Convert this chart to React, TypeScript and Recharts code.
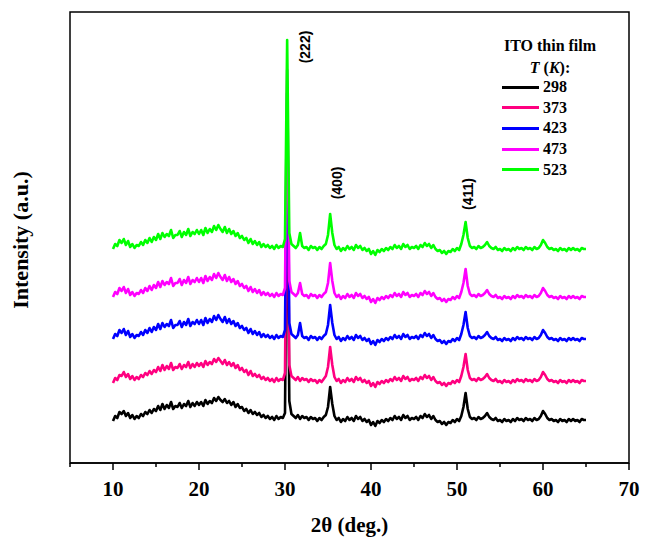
import React from 'react';
import { LineChart, Line, XAxis, YAxis, ReferenceArea, ReferenceDot } from 'recharts';

// 2θ sampling, 10° to 65° every 0.25°
const twoTheta = Array.from({ length: 221 }, (_, i) => 10 + i * 0.25);

// intensities (arbitrary units, stacked patterns)
const int298 = [
  44, 49, 47, 53, 51, 54, 49, 52, 47, 50, 46, 49, 47, 51, 49, 53, 51, 55, 52, 56,
  54, 59, 55, 61, 56, 60, 57, 63, 56, 59, 58, 62, 57, 61, 59, 64, 58, 62, 59, 63,
  60, 63, 59, 65, 61, 64, 62, 67, 64, 68, 65, 63, 66, 62, 64, 60, 63, 58, 61, 57,
  58, 54, 56, 52, 55, 51, 53, 50, 52, 48, 50, 47, 49, 46, 48, 45, 49, 46, 48, 47,
  52, 305, 64, 51, 49, 47, 50, 46, 49, 47, 48, 45, 48, 46, 47, 44, 47, 45, 48, 50,
  58, 78, 61, 49, 45, 47, 43, 46, 44, 48, 45, 47, 44, 49, 46, 48, 44, 46, 43, 45,
  40, 43, 39, 44, 42, 45, 43, 46, 44, 47, 45, 49, 46, 48, 45, 50, 47, 49, 45, 47,
  46, 48, 45, 49, 47, 51, 48, 50, 46, 49, 45, 43, 44, 41, 43, 40, 43, 42, 45, 43,
  46, 44, 49, 58, 72, 56, 48, 46, 47, 45, 48, 46, 47, 49, 52, 48, 46, 45, 47, 44,
  45, 43, 46, 44, 45, 43, 46, 44, 47, 45, 46, 44, 47, 45, 46, 44, 47, 45, 46, 49,
  54, 51, 47, 45, 46, 44, 45, 43, 46, 44, 45, 43, 46, 44, 46, 44, 45, 43, 46, 45,
  45,
];
const int373 = [
  82, 87, 85, 90, 89, 93, 88, 91, 86, 89, 85, 88, 86, 90, 88, 92, 90, 94, 91, 95,
  93, 98, 94, 100, 95, 99, 96, 102, 95, 98, 97, 101, 96, 100, 98, 103, 97, 101, 98, 102,
  99, 102, 98, 104, 100, 103, 101, 106, 103, 107, 104, 101, 105, 100, 103, 99, 102, 97, 100, 95,
  97, 93, 95, 90, 94, 89, 91, 88, 90, 86, 88, 85, 87, 84, 86, 83, 87, 84, 86, 85,
  92, 345, 100, 89, 87, 85, 88, 84, 87, 85, 86, 83, 86, 84, 85, 82, 85, 83, 86, 89,
  98, 118, 100, 88, 84, 86, 82, 85, 83, 87, 84, 86, 83, 88, 85, 87, 83, 85, 82, 84,
  79, 82, 78, 83, 81, 84, 82, 85, 83, 86, 84, 88, 85, 87, 84, 89, 86, 88, 84, 86,
  85, 87, 84, 88, 86, 90, 87, 89, 85, 88, 84, 82, 83, 80, 82, 79, 82, 81, 84, 82,
  85, 83, 89, 98, 111, 95, 87, 85, 86, 84, 87, 85, 86, 88, 91, 87, 85, 84, 86, 83,
  84, 82, 85, 83, 84, 82, 85, 83, 86, 84, 85, 83, 86, 84, 85, 83, 86, 84, 85, 88,
  93, 90, 86, 84, 85, 83, 84, 82, 85, 83, 84, 82, 85, 83, 85, 83, 84, 82, 85, 84,
  84,
];
const int423 = [
  126, 131, 129, 135, 132, 136, 130, 134, 128, 131, 127, 130, 129, 133, 130, 135, 132, 137, 133, 138,
  135, 141, 136, 142, 138, 141, 139, 145, 137, 140, 140, 144, 138, 143, 140, 146, 139, 143, 141, 145,
  141, 145, 140, 147, 142, 146, 143, 149, 145, 150, 146, 143, 148, 142, 146, 141, 144, 139, 142, 137,
  139, 135, 137, 132, 136, 131, 134, 130, 133, 128, 131, 128, 130, 127, 129, 126, 130, 127, 129, 128,
  135, 372, 142, 131, 129, 127, 130, 142, 129, 127, 128, 125, 129, 127, 128, 125, 128, 126, 129, 131,
  140, 160, 142, 130, 126, 128, 124, 127, 125, 129, 126, 128, 125, 130, 127, 129, 125, 127, 124, 126,
  121, 124, 120, 125, 123, 126, 124, 127, 125, 128, 126, 130, 127, 129, 126, 131, 128, 130, 126, 128,
  127, 129, 126, 130, 128, 132, 129, 131, 127, 130, 126, 124, 125, 122, 124, 121, 124, 123, 126, 124,
  127, 125, 131, 140, 153, 137, 129, 127, 128, 126, 129, 127, 128, 130, 133, 129, 127, 126, 128, 125,
  126, 124, 127, 125, 126, 124, 127, 125, 128, 126, 127, 125, 128, 126, 127, 125, 128, 126, 127, 130,
  135, 132, 128, 126, 127, 125, 126, 124, 127, 125, 126, 124, 127, 125, 127, 125, 126, 124, 127, 126,
  126,
];
const int473 = [
  168, 173, 171, 177, 174, 178, 172, 176, 170, 173, 169, 172, 171, 175, 172, 177, 174, 179, 175, 180,
  177, 183, 178, 184, 180, 183, 181, 187, 179, 182, 182, 186, 180, 185, 182, 188, 181, 185, 183, 187,
  183, 187, 182, 189, 184, 188, 185, 191, 187, 192, 188, 185, 190, 184, 188, 183, 186, 181, 184, 179,
  181, 177, 179, 174, 178, 173, 176, 172, 175, 170, 173, 170, 172, 169, 171, 168, 172, 169, 171, 170,
  177, 395, 184, 173, 171, 169, 172, 182, 171, 169, 170, 167, 171, 169, 170, 167, 170, 168, 171, 173,
  182, 202, 184, 172, 168, 170, 166, 169, 167, 171, 168, 170, 167, 172, 169, 171, 167, 169, 166, 168,
  163, 166, 162, 167, 165, 168, 166, 169, 167, 170, 168, 172, 169, 171, 168, 173, 170, 172, 168, 170,
  169, 171, 168, 172, 170, 174, 171, 173, 169, 172, 168, 166, 167, 164, 166, 163, 166, 165, 168, 166,
  169, 167, 173, 182, 196, 179, 171, 169, 170, 168, 171, 169, 170, 172, 175, 171, 169, 168, 170, 167,
  168, 166, 169, 167, 168, 166, 169, 167, 170, 168, 169, 167, 170, 168, 169, 167, 170, 168, 169, 172,
  177, 174, 170, 168, 169, 167, 168, 166, 169, 167, 168, 166, 169, 167, 169, 167, 168, 166, 169, 168,
  168,
];
const int523 = [
  216, 221, 219, 225, 222, 226, 220, 224, 218, 221, 217, 220, 219, 223, 220, 225, 222, 227, 223, 228,
  225, 231, 226, 232, 228, 231, 229, 235, 227, 230, 230, 234, 228, 233, 230, 236, 229, 233, 231, 235,
  231, 235, 230, 237, 232, 236, 233, 239, 235, 240, 236, 233, 238, 232, 236, 231, 234, 229, 232, 227,
  229, 225, 227, 222, 226, 221, 224, 220, 223, 218, 221, 218, 220, 217, 219, 216, 220, 217, 219, 218,
  226, 425, 232, 221, 219, 217, 220, 232, 219, 217, 218, 215, 219, 217, 218, 215, 218, 216, 219, 221,
  230, 251, 232, 220, 216, 218, 214, 217, 215, 219, 216, 218, 215, 220, 217, 219, 215, 217, 214, 216,
  211, 214, 210, 215, 213, 216, 214, 217, 215, 218, 216, 220, 217, 219, 216, 221, 218, 220, 216, 218,
  217, 219, 216, 220, 218, 222, 219, 221, 217, 220, 216, 214, 215, 212, 214, 211, 214, 213, 216, 214,
  217, 215, 221, 230, 243, 227, 219, 217, 218, 216, 219, 217, 218, 220, 223, 219, 217, 216, 218, 215,
  216, 214, 217, 215, 216, 214, 217, 215, 218, 216, 217, 215, 218, 216, 217, 215, 218, 216, 217, 220,
  225, 222, 218, 216, 217, 215, 216, 214, 217, 215, 216, 214, 217, 215, 217, 215, 216, 214, 217, 216,
  216,
];

const temps = ['298', '373', '423', '473', '523'];
const colors = ['#000000', '#ff0080', '#0000ff', '#ff00ff', '#00ff00'];
const seriesValues = [int298, int373, int423, int473, int523];

const xTicks = [5, 10, 15, 20, 25, 30, 35, 40, 45, 50, 55, 60, 65, 70];

const peakNames = ['(222)', '(400)', '(411)'];
const peakX = [32.3, 36.1, 51.3];
const peakY = [418, 282, 271];

const data = twoTheta.map((x, i) => {
  const row: Record<string, number> = { x };
  temps.forEach((t, k) => {
    row['T' + t] = seriesValues[k][i];
  });
  return row;
});

const serif = '"Liberation Serif", "Times New Roman", serif';
const sans = '"Liberation Sans", Arial, sans-serif';

const XTick = (props: any) => {
  const { x, y, payload } = props;
  const major = payload.value % 10 === 0;
  return (
    <g>
      <line x1={x} x2={x} y1={y} y2={y + (major ? 7 : 4)} stroke="#000" strokeWidth={1.5} />
      {major && (
        <text x={x} y={y + 33} textAnchor="middle" fontFamily={serif} fontWeight="bold" fontSize={21} fill="#000">
          {payload.value}
        </text>
      )}
    </g>
  );
};

const PeakLabel = (props: any) => {
  const { viewBox, value } = props;
  const cx = viewBox.x + (viewBox.width || 0) / 2;
  const cy = viewBox.y + (viewBox.height || 0) / 2;
  return (
    <text
      x={cx}
      y={cy}
      transform={`rotate(-90 ${cx} ${cy})`}
      textAnchor="middle"
      dominantBaseline="central"
      fontFamily={sans}
      fontWeight="bold"
      fontSize={14}
      fill="#000"
    >
      {value}
    </text>
  );
};

export default function App() {
  return (
    <div style={{ position: 'absolute', left: 0, top: 0, width: 647, height: 544, background: '#fff' }}>
      <LineChart width={647} height={544} data={data} margin={{ top: 12, right: 18, left: 70, bottom: 9 }}>
        <XAxis
          dataKey="x"
          type="number"
          domain={[5, 70]}
          ticks={xTicks}
          interval={0}
          tickSize={0}
          tickMargin={0}
          tickLine={false}
          tick={<XTick />}
          height={72}
          axisLine={{ stroke: '#000', strokeWidth: 1.5 }}
          label={{
            value: '2θ (deg.)',
            position: 'insideBottom',
            offset: 3,
            style: { fontFamily: serif, fontWeight: 'bold', fontSize: 21, fill: '#000' },
          }}
        />
        <YAxis type="number" domain={[2, 453]} width={0} tick={false} tickLine={false} axisLine={{ stroke: '#000', strokeWidth: 1.5 }} allowDataOverflow />
        <ReferenceArea x1={5} x2={70} y1={2} y2={453} fill="none" stroke="#000" strokeWidth={1.5} ifOverflow="visible" />
        {temps.map((t, k) => (
          <Line
            key={t}
            type="linear"
            dataKey={'T' + t}
            stroke={colors[k]}
            strokeWidth={2.6}
            strokeLinejoin="round"
            dot={false}
            isAnimationActive={false}
          />
        ))}
        {peakNames.map((name, i) => (
          <ReferenceDot
            key={name}
            x={peakX[i]}
            y={peakY[i]}
            r={0}
            fill="none"
            stroke="none"
            ifOverflow="visible"
            label={{ value: name, content: PeakLabel }}
          />
        ))}
      </LineChart>

      <div
        style={{
          position: 'absolute',
          left: 21,
          top: 240,
          transform: 'translate(-50%, -50%) rotate(-90deg)',
          whiteSpace: 'nowrap',
          fontFamily: serif,
          fontWeight: 'bold',
          fontSize: 22,
          color: '#000',
        }}
      >
        Intensity (a.u.)
      </div>

      <div style={{ position: 'absolute', left: 500, top: 36, width: 100, fontFamily: serif, fontWeight: 'bold', fontSize: 16, color: '#000' }}>
        <div style={{ height: 22, lineHeight: '20px', textAlign: 'center' }}>ITO thin film</div>
        <div style={{ height: 19, lineHeight: '20px', textAlign: 'center' }}>
          <i>T</i> (<i>K</i>):
        </div>
        {temps.map((t, k) => (
          <div key={t} style={{ height: 20.6, display: 'flex', alignItems: 'center' }}>
            <div style={{ width: 37, height: 3, background: colors[k], marginLeft: 2, marginRight: 4 }} />
            <span style={{ lineHeight: '20px' }}>{t}</span>
          </div>
        ))}
      </div>
    </div>
  );
}
